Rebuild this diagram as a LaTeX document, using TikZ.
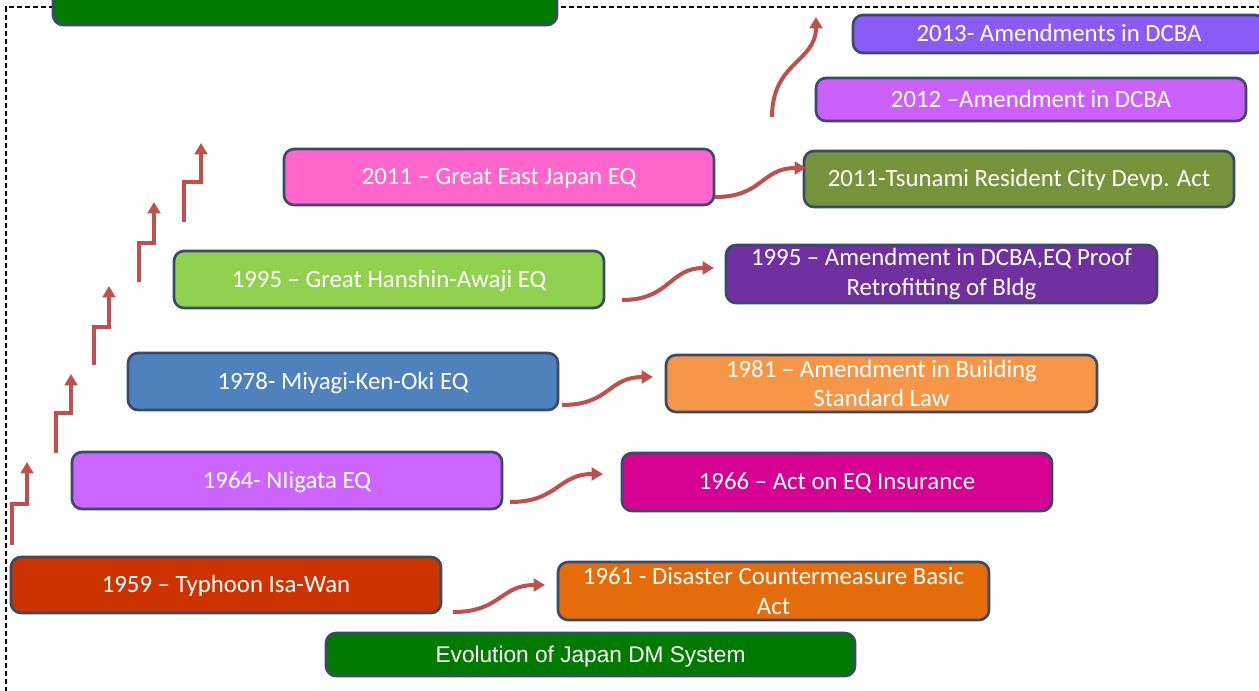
\documentclass[tikz,border=0pt]{standalone}
\usepackage{fontspec}
\newfontfamily\carlito{Carlito}
\newfontfamily\libsans{Liberation Sans}
\usetikzlibrary{arrows.meta}
\definecolor{bordercol}{HTML}{3A4A6A}
\definecolor{arrowcol}{HTML}{C0504D}
\definecolor{dmgreen}{HTML}{007A00}
\definecolor{c2013}{HTML}{8A5CF5}
\definecolor{c2012}{HTML}{CC60FA}
\definecolor{cEast}{HTML}{FF66CC}
\definecolor{cTsu}{HTML}{77933C}
\definecolor{cHan}{HTML}{92D050}
\definecolor{cA95}{HTML}{7030A0}
\definecolor{cMiy}{HTML}{4F81BD}
\definecolor{cA81}{HTML}{F79646}
\definecolor{cNii}{HTML}{CC66FF}
\definecolor{cA66}{HTML}{D60093}
\definecolor{cTyp}{HTML}{CC3300}
\definecolor{cA61}{HTML}{E46C0A}
\tikzset{
  evbox/.style={draw=bordercol, line width=2pt, rounded corners=7.5pt, text=white,
    font=\carlito\fontsize{18.6}{22}\selectfont, align=center, inner sep=0pt,
    text height=15.7pt, text depth=4pt,
    minimum width=322.5pt, minimum height=42.75pt},
  twoline/.style={text height=, text depth=},
  greenbox/.style={evbox, fill=dmgreen, font=\libsans\fontsize{17}{20}\selectfont,
    text height=15.8pt, text depth=4pt},
  stairarrow/.style={draw=arrowcol, line width=3pt, -{Triangle[length=8.5pt,width=9.5pt]}},
  curvearrow/.style={draw=arrowcol, line width=3pt, -{Triangle[length=8.5pt,width=9.5pt]}},
  frame/.style={draw=black, line width=1pt, dash pattern=on 4pt off 2pt}
}
\begin{document}
\begin{tikzpicture}[x=0.75pt,y=-0.75pt]
\useasboundingbox (0,0) rectangle (1259,690);
\clip (0,0) rectangle (1259,690);
% frame
\coordinate (fbl) at (6,700);
\coordinate (ftl) at (6,7);
\coordinate (ftr) at (1270,7);
\draw[frame] (fbl) -- (ftl) -- (ftr);
% boxes
\node[greenbox, minimum width=378pt, minimum height=41.25pt] (topbar) at (305,-2.5) {};
\node[evbox, fill=c2013, minimum width=309pt, minimum height=28.5pt] (a2013) at (1059,34) {2013- Amendments in DCBA};
\node[evbox, fill=c2012, minimum height=32.25pt] (a2012) at (1031,99.5) {2012 –Amendment in DCBA};
\node[evbox, fill=cEast, minimum height=42pt] (e2011) at (499,177) {2011 – Great East Japan EQ};
\node[evbox, fill=cTsu, minimum height=42pt] (a2011) at (1019,179) {2011-Tsunami Resident City Devp. Act};
\node[evbox, fill=cHan] (e1995) at (389,279.5) {1995 – Great Hanshin-Awaji EQ};
\node[evbox, twoline, fill=cA95, minimum width=323.25pt, minimum height=43.5pt] (a1995) at (941.5,274) {1995 – Amendment in DCBA,EQ Proof\\Retrofitting of Bldg};
\node[evbox, fill=cMiy] (e1978) at (343,381.5) {1978- Miyagi-Ken-Oki EQ};
\node[evbox, twoline, fill=cA81, minimum width=323.25pt] (a1981) at (881.5,383.5) {1981 – Amendment in Building\\Standard Law};
\node[evbox, fill=cNii] (e1964) at (287,480.5) {1964- NIigata EQ};
\node[evbox, fill=cA66, minimum height=43.5pt] (a1966) at (837,482) {1966 – Act on EQ Insurance};
\node[evbox, fill=cTyp, minimum height=42pt] (e1959) at (226,585) {1959 – Typhoon Isa-Wan};
\node[evbox, twoline, fill=cA61, minimum width=323.25pt, minimum height=43.5pt] (a1961) at (773.5,591) {1961 - Disaster Countermeasure Basic\\Act};
\node[greenbox, minimum width=396.75pt, minimum height=32.25pt] (evo) at (590.5,654.5) {Evolution of Japan DM System};
% staircase arrows
\coordinate (s1a) at (12,545); \coordinate (s1b) at (27,462);
\coordinate (s2a) at (56,453); \coordinate (s2b) at (71,374);
\coordinate (s3a) at (94,365); \coordinate (s3b) at (109,286);
\coordinate (s4a) at (139,282); \coordinate (s4b) at (154,202);
\coordinate (s5a) at (184,222); \coordinate (s5b) at (201,143);
\draw[stairarrow] (s1a) -- (12,504) -- (27,504) -- (s1b);
\draw[stairarrow] (s2a) -- (56,413) -- (71,413) -- (s2b);
\draw[stairarrow] (s3a) -- (94,327) -- (109,327) -- (s3b);
\draw[stairarrow] (s4a) -- (139,243) -- (154,243) -- (s4b);
\draw[stairarrow] (s5a) -- (184,182) -- (201,182) -- (s5b);
% curved arrows
\coordinate (c1a) at (453,612); \coordinate (c1b) at (545,585);
\coordinate (c2a) at (510,502); \coordinate (c2b) at (603,474);
\coordinate (c3a) at (562,405); \coordinate (c3b) at (653,377);
\coordinate (c4a) at (622,300); \coordinate (c4b) at (714,268);
\coordinate (c5a) at (715,197); \coordinate (c5b) at (806,168);
\coordinate (c6a) at (772,117); \coordinate (c6b) at (816,17);
\draw[curvearrow] (c1a) .. controls +(48,0) and +(-45,0) .. (c1b);
\draw[curvearrow] (c2a) .. controls +(48,0) and +(-45,0) .. (c2b);
\draw[curvearrow] (c3a) .. controls +(48,0) and +(-45,0) .. (c3b);
\draw[curvearrow] (c4a) .. controls +(48,0) and +(-45,0) .. (c4b);
\draw[curvearrow] (c5a) .. controls +(48,0) and +(-45,0) .. (c5b);
\draw[curvearrow] (c6a) .. controls +(0,-55) and +(0,45) .. (c6b);
\end{tikzpicture}
\end{document}
